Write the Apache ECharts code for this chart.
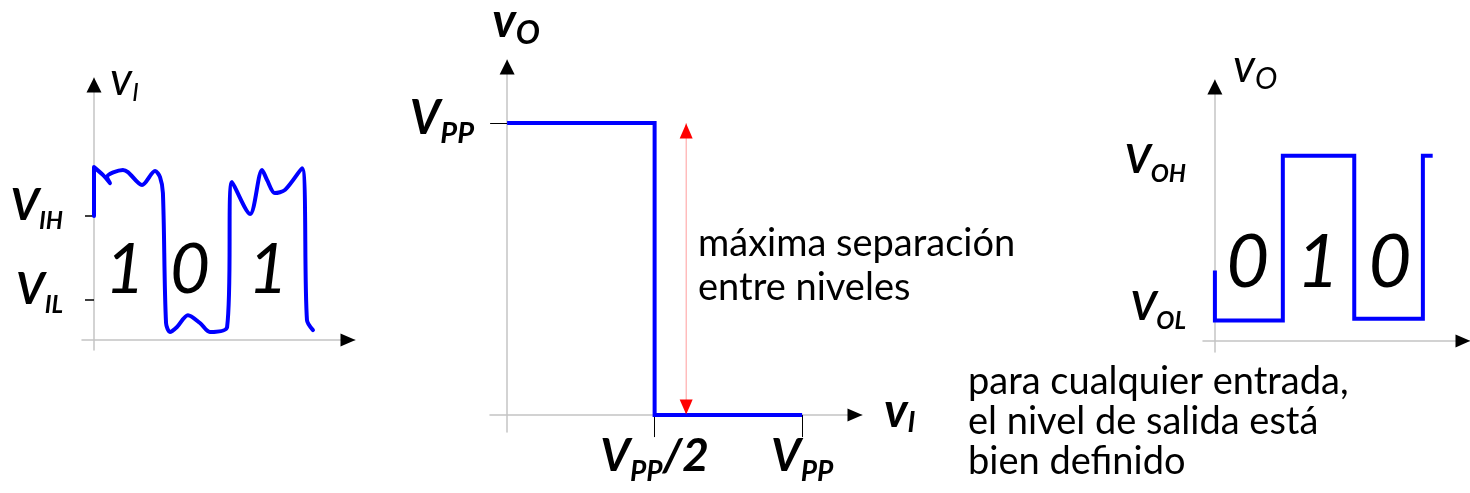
<!DOCTYPE html>
<html><head><meta charset="utf-8">
<script src="https://cdn.jsdelivr.net/npm/echarts@6/dist/echarts.min.js"></script>
<style>html,body{margin:0;background:#fff}#c{width:1470px;height:493px}</style>
</head><body><div id="c"></div>
<script>
// panel izquierdo: entrada con ruido
const inputWave = [[0,4.73],[0,6.6],[0.34,6.3],[0.61,5.99],[0.5,6.22],[1.11,6.49],[1.3,6.41],[1.84,5.92],[2.34,6.45],[2.53,6.22],[2.64,5.61],
  [2.76,0.65],[2.91,0.31],[3.18,0.5],[3.6,0.95],[4.06,0.65],[4.44,0.31],[5.1,0.5],[5.29,6.03],[5.98,4.81],[6.44,6.49],[6.63,6.11],
  [6.93,5.61],[7.32,5.73],[7.97,6.56],[8.16,0.76],[8.39,0.38]];
const inputLevels = [4.73, 1.53];            // V_IH, V_IL
const inputLevelNames = ['IH', 'IL'];
const inputBits = ['1', '0', '1'];
const inputBitX = [1.19, 3.68, 6.67];
const inputBitY = 2.63;
// panel central: característica de transferencia
const transfer = [[0,1],[0.5,1],[0.5,0],[1,0]];
const transferTicksX = [0.5, 1];
const transferTicksY = [1];
const sepX = 0.607;
const sepRange = [0, 1];
// panel derecho: salida restaurada
const outputWave = [[0,0.38],[0,0.11],[0.97,0.11],[0.97,1],[1.99,1],[1.99,0.12],[2.97,0.12],[2.97,1],[3.11,1]];
const outputLevels = [1, 0.11];              // V_OH, V_OL
const outputLevelNames = ['OH', 'OL'];
const outputBits = ['0', '1', '0'];
const outputBitX = [0.47, 1.47, 2.5];
const outputBitY = 0.42;

const FONT = 'Lato, "Noto Sans", sans-serif';
const BLUE = '#0000ff', AXIS = '#c4c4c4';
const ext = [ // [xmin,xmax,ymin,ymax]
  [-0.46, 10, -0.38, 10],
  [-0.058, 1.203, -0.058, 1.216],
  [-0.17, 3.643, -0.06, 1.41],
];
const rich = (big, small, drop, bold) => ({
  V: { fontSize: big, fontStyle: 'italic', fontWeight: bold ? 'bold' : 'normal', fontFamily: FONT, color: '#000' },
  s: { fontSize: small, fontStyle: 'italic', fontWeight: bold ? 'bold' : 'normal', fontFamily: FONT, color: '#000', padding: [drop, 0, 0, 0] },
  g: { fontSize: 1, lineHeight: 8 },
  G: { fontSize: 1, lineHeight: 26 },
});
const baseX = (i) => ({
  type: 'value', gridIndex: i, min: ext[i][0], max: ext[i][1],
  axisLine: { onZero: true, lineStyle: { color: AXIS, width: 1.5 } },
  axisTick: { show: false }, axisLabel: { show: false }, splitLine: { show: false },
});
const baseY = (i) => ({
  type: 'value', gridIndex: i, min: ext[i][2], max: ext[i][3],
  axisLine: { onZero: true, lineStyle: { color: AXIS, width: 1.5 } },
  axisTick: { show: false }, axisLabel: { show: false }, splitLine: { show: false },
});
const arrows = (i) => ({
  type: 'scatter', xAxisIndex: i, yAxisIndex: i, silent: true, clip: false, z: 5,
  itemStyle: { color: '#000', opacity: 1 }, symbol: 'triangle',
  data: [
    { value: [ext[i][1], 0], symbolSize: [13, 15], symbolRotate: -90, symbolOffset: [-7, 0] },
    { value: [0, ext[i][3]], symbolSize: [15, 15], symbolOffset: [0, 7] },
  ],
});
const bitLabels = (i, xs, y, bits, size) => ({
  type: 'scatter', xAxisIndex: i, yAxisIndex: i, silent: true, symbolSize: 0,
  itemStyle: { opacity: 1 },
  data: xs.map((x, k) => [x, y, bits[k]]),
  label: { show: true, position: 'inside', formatter: (p) => p.value[2],
    fontSize: size, fontStyle: 'italic', fontFamily: FONT, color: '#000' },
});

const xAxis = [baseX(0), baseX(1), baseX(2)];
const yAxis = [baseY(0), baseY(1), baseY(2)];

// izquierdo
yAxis[0].name = '{V|v}{s|I}';
yAxis[0].nameGap = 24;
yAxis[0].nameTextStyle = { rich: rich(46, 26, 26, false), align: 'left', verticalAlign: 'top', padding: [0, 0, 0, 16] };
yAxis[0].axisTick = { show: true, customValues: inputLevels, length: 9, lineStyle: { color: '#000', width: 1.5 } };
yAxis[0].axisLabel = { show: true, customValues: inputLevels, margin: 19, padding: [0, 0, 20, 0],
  formatter: (v) => '{V|V}{s|' + inputLevelNames[inputLevels.indexOf(v)] + '}', rich: rich(44, 24, 30, true) };

// central
yAxis[1].name = '{V|v}{s|O}';
yAxis[1].nameGap = 10;
yAxis[1].nameTextStyle = { rich: rich(48, 32, 24, true), align: 'center', verticalAlign: 'bottom', padding: [0, 0, 0, 18] };
yAxis[1].axisTick = { show: true, customValues: transferTicksY, length: 17, lineStyle: { color: '#000', width: 1 } };
yAxis[1].axisLabel = { show: true, customValues: transferTicksY, margin: 16, padding: [0, 0, 8, 0],
  formatter: () => '{V|V}{s|PP}', rich: rich(47, 29, 30, true) };
xAxis[1].name = '{V|v}{s|I}';
xAxis[1].nameGap = 22;
xAxis[1].nameTextStyle = { rich: rich(48, 28, 24, true), align: 'left', verticalAlign: 'middle', padding: [0, 0, 8, 0] };
xAxis[1].axisTick = { show: true, customValues: transferTicksX, length: 22, lineStyle: { color: '#000', width: 1 } };
xAxis[1].axisLabel = { show: true, customValues: transferTicksX, margin: -6,
  formatter: (v) => v === 0.5 ? '{V|V}{s|PP}{V|/2}' : '{V|V}{s|PP}', rich: rich(46, 28, 32, true) };

// derecho
yAxis[2].name = '{V|v}{s|O}';
yAxis[2].nameGap = 40;
yAxis[2].nameTextStyle = { rich: rich(46, 30, 24, false), align: 'left', verticalAlign: 'top', padding: [0, 0, 0, 18] };
yAxis[2].axisLabel = { show: true, customValues: outputLevels, margin: 17,
  formatter: (v) => v === outputLevels[0]
    ? '{g|}\n{V|V}{s|' + outputLevelNames[0] + '}'
    : '{V|V}{s|' + outputLevelNames[1] + '}\n{G|}',
  rich: rich(40, 24, 28, true) };

const chart = echarts.init(document.getElementById('c'));
chart.setOption({
  animation: false,
  grid: [
    { left: 82, right: 1115, top: 78, bottom: 143, outerBoundsMode: 'none' },
    { left: 490, right: 608, top: 60, bottom: 61, outerBoundsMode: 'none' },
    { left: 1203, right: 0, top: 80, bottom: 141, outerBoundsMode: 'none' },
  ],
  xAxis, yAxis,
  series: [
    { type: 'line', xAxisIndex: 0, yAxisIndex: 0, data: inputWave, smooth: 0.3, symbol: 'none',
      lineStyle: { color: BLUE, width: 4, cap: 'round', join: 'round' } },
    bitLabels(0, inputBitX, inputBitY, inputBits, 69),
    arrows(0),
    { type: 'line', xAxisIndex: 1, yAxisIndex: 1, data: sepRange.map((y) => [sepX, y]), symbol: 'none',
      lineStyle: { color: '#ff9c9c', width: 1 } },
    { type: 'scatter', xAxisIndex: 1, yAxisIndex: 1, symbol: 'triangle', itemStyle: { color: '#ff0000', opacity: 1 }, z: 4,
      data: [
        { value: [sepX, sepRange[1]], symbolSize: [13, 15], symbolOffset: [0, 8] },
        { value: [sepX, sepRange[0]], symbolSize: [13, 15], symbolRotate: 180, symbolOffset: [0, -8] },
      ] },
    { type: 'line', xAxisIndex: 1, yAxisIndex: 1, data: transfer, symbol: 'none',
      lineStyle: { color: BLUE, width: 4, join: 'miter' } },
    arrows(1),
    { type: 'line', xAxisIndex: 2, yAxisIndex: 2, data: outputWave, symbol: 'none',
      lineStyle: { color: BLUE, width: 4, join: 'miter' } },
    bitLabels(2, outputBitX, outputBitY, outputBits, 74),
    arrows(2),
  ],
  graphic: [
    { type: 'text', left: 698, top: 222, style: { text: 'máxima separación\nentre niveles',
      font: '38px ' + FONT, lineHeight: 44, fill: '#000' } },
    { type: 'text', left: 968, top: 362, style: { text: 'para cualquier entrada,\nel nivel de salida está\nbien definido',
      font: '38px ' + FONT, lineHeight: 40, fill: '#000' } },
  ],
});
</script></body></html>
